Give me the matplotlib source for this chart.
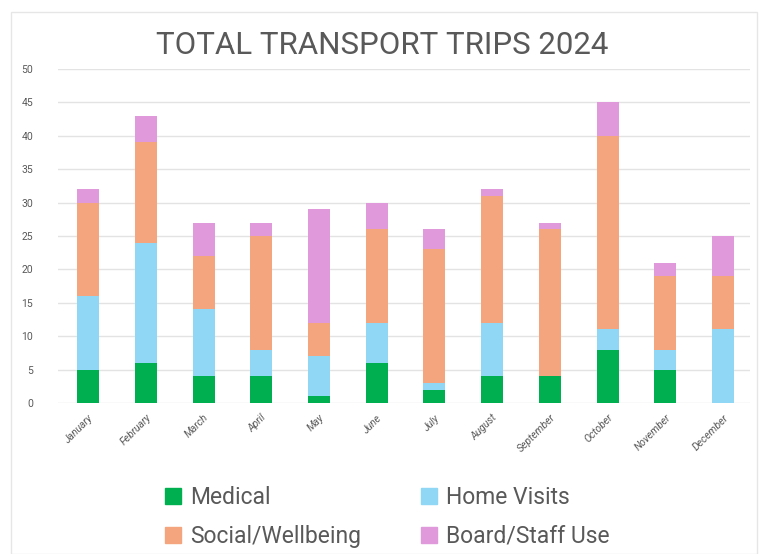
import matplotlib
matplotlib.use("Agg")
import matplotlib.pyplot as plt
from matplotlib.patches import Rectangle, Patch
import numpy as np

months = ["January", "February", "March", "April", "May", "June",
          "July", "August", "September", "October", "November", "December"]
medical = [5, 6, 4, 4, 1, 6, 2, 4, 4, 8, 5, 0]
home_visits = [11, 18, 10, 4, 6, 6, 1, 8, 0, 3, 3, 11]
social = [14, 15, 8, 17, 5, 14, 20, 19, 22, 29, 11, 8]
board_staff = [2, 4, 5, 2, 17, 4, 3, 1, 1, 5, 2, 6]

series = [("Medical", medical, "#00B050"),
          ("Home Visits", home_visits, "#8FD7F4"),
          ("Social/Wellbeing", social, "#F4A57D"),
          ("Board/Staff Use", board_staff, "#E09ADC")]

plt.rcParams['font.family'] = ['Roboto', 'DejaVu Sans']
txt_col = "#595959"

fig = plt.figure(figsize=(7.64, 5.54), dpi=100)
# faint outer frame like the source chart area
fig.patches.append(Rectangle((11 / 764, 0), 746 / 764, 1 - 12 / 554, transform=fig.transFigure,
                             fill=False, edgecolor="#E6E6E6", linewidth=1))

ax = fig.add_axes([0.076, 0.2726, 0.906, 0.603])
x = np.arange(len(months))
bottom = np.zeros(len(months))
for name, vals, col in series:
    ax.bar(x, vals, width=0.38, bottom=bottom, color=col, label=name, zorder=3)
    bottom += np.array(vals)

ax.set_ylim(0, 50)
ax.set_xlim(-0.52, 11.47)
ax.set_yticks(range(0, 51, 5))
ax.yaxis.grid(True, color="#E3E3E3", linewidth=1, zorder=0)
for s in ax.spines.values():
    s.set_visible(False)
ax.tick_params(axis="both", length=0, colors=txt_col, labelsize=7.5)
ax.tick_params(axis="y", pad=18)
ax.set_xticks(x)
ax.set_xticklabels(months, rotation=45, ha="right", rotation_mode="anchor",
                   fontstyle="italic")
ax.tick_params(axis="x", pad=7)

fig.text(0.5, 0.918, "TOTAL TRANSPORT TRIPS 2024", ha="center", va="center",
         fontsize=22.5, color=txt_col)

order = [0, 2, 1, 3]
handles = [Patch(color=series[i][2], label=series[i][0]) for i in order]
fig.legend(handles=handles, ncol=2, loc="center", bbox_to_anchor=(0.507, 0.067),
           frameon=False, fontsize=16.5, handlelength=0.7, handleheight=0.7,
           handletextpad=0.4, columnspacing=2.6, labelspacing=0.7,
           labelcolor=txt_col)

fig.savefig("out.png", dpi=100)
